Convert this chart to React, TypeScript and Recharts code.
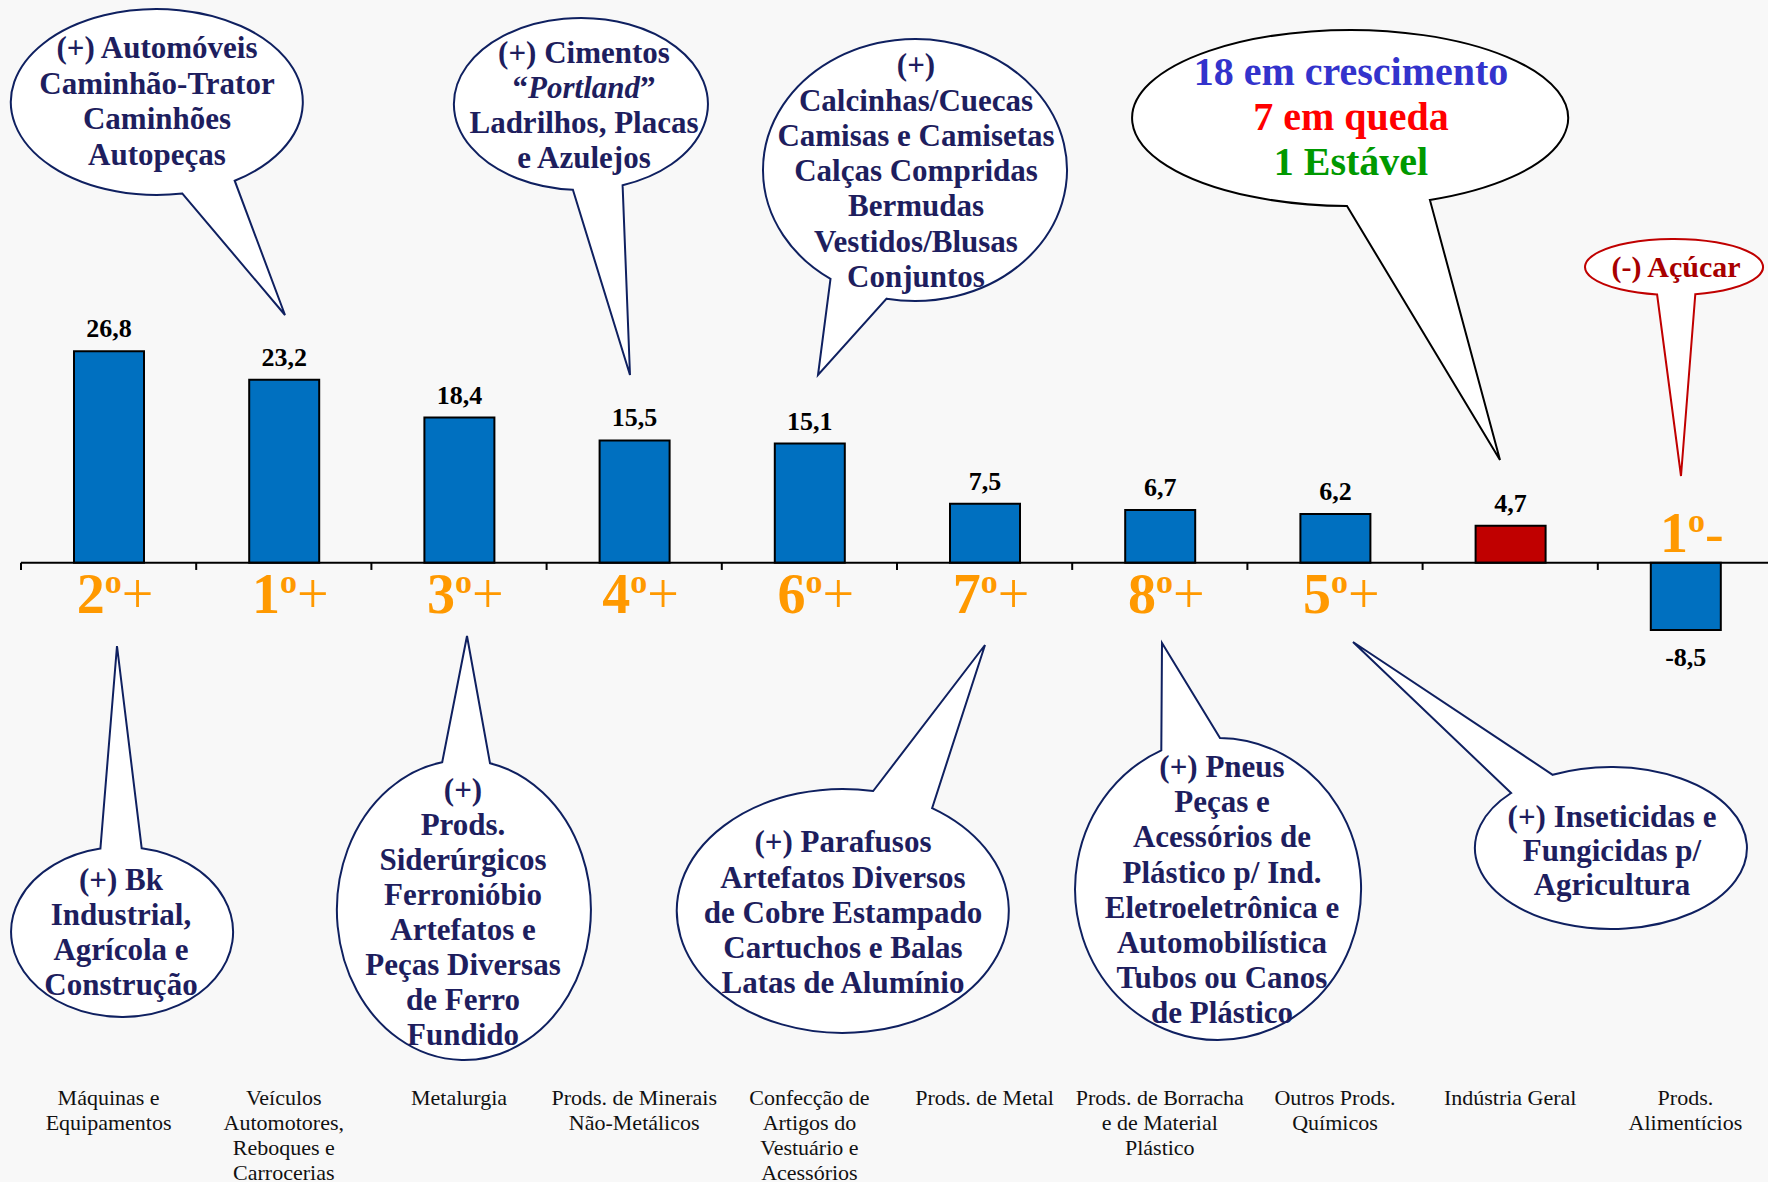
import React from 'react';
import { BarChart, Bar, XAxis, YAxis, ReferenceLine, LabelList, Cell } from 'recharts';

// categories (line breaks as in the original slide)
const categories = [
  'Máquinas e\nEquipamentos',
  'Veículos\nAutomotores,\nReboques e\nCarrocerias',
  'Metalurgia',
  'Prods. de Minerais\nNão-Metálicos',
  'Confecção de\nArtigos do\nVestuário e\nAcessórios',
  'Prods. de Metal',
  'Prods. de Borracha\ne de Material\nPlástico',
  'Outros Prods.\nQuímicos',
  'Indústria Geral',
  'Prods.\nAlimentícios',
];
const values = [26.8, 23.2, 18.4, 15.5, 15.1, 7.5, 6.7, 6.2, 4.7, -8.5];
const ranks = ['2º+', '1º+', '3º+', '4º+', '6º+', '7º+', '8º+', '5º+', '', '1º-'];
const totalCategory = 'Indústria Geral';

const data = categories.map((name, i) => ({ name, pos: i + 0.5, value: values[i], rank: ranks[i] }));
const centerTicks = data.map((d) => d.pos);
const boundaries = categories.map((_, i) => i);

const FONT = "'Liberation Serif', 'Times New Roman', serif";
const BLUE = '#0070C0';
const RED = '#C00000';
const ORANGE = '#FF9900';
const NAVY_TEXT = '#1E1E5E';
const NAVY_LINE = '#0F2060';

type Seg = { t: string; italic?: boolean };
type Line = string | Seg[];

interface Callout {
  cx: number; cy: number; rx: number; ry: number;
  base: [number, number][];
  tip: [number, number];
  lines: Line[];
  colors?: string[];
  x: number; y0: number; step: number;
  size: number;
  stroke: string;
  textColor: string;
}

// speech-bubble annotations
const callouts: Callout[] = [
  {
    cx: 157, cy: 102, rx: 146, ry: 93, base: [[182, 192], [233, 179]], tip: [285, 315],
    lines: ['(+) Automóveis', 'Caminhão-Trator', 'Caminhões', 'Autopeças'],
    x: 157, y0: 48, step: 35.5, size: 31, stroke: NAVY_LINE, textColor: NAVY_TEXT,
  },
  {
    cx: 581, cy: 104, rx: 127, ry: 86, base: [[573, 189], [622, 184]], tip: [630, 375],
    lines: ['(+) Cimentos', [{ t: '“' }, { t: 'Portland', italic: true }, { t: '”' }], 'Ladrilhos, Placas', 'e Azulejos'],
    x: 584, y0: 53, step: 35, size: 31, stroke: NAVY_LINE, textColor: NAVY_TEXT,
  },
  {
    cx: 915, cy: 170, rx: 152, ry: 131, base: [[832, 277], [887, 297]], tip: [818, 375],
    lines: ['(+)', 'Calcinhas/Cuecas', 'Camisas e Camisetas', 'Calças Compridas', 'Bermudas', 'Vestidos/Blusas', 'Conjuntos'],
    x: 916, y0: 65, step: 35.3, size: 31, stroke: NAVY_LINE, textColor: NAVY_TEXT,
  },
  {
    cx: 1350, cy: 118, rx: 218, ry: 88, base: [[1347, 207], [1430, 200]], tip: [1500, 460],
    lines: ['18 em crescimento', '7 em queda', '1 Estável'],
    colors: ['#3333CC', '#FF0000', '#009900'],
    x: 1351, y0: 72, step: 45, size: 40, stroke: '#000000', textColor: '#000000',
  },
  {
    cx: 1674, cy: 267, rx: 89, ry: 28, base: [[1658, 293], [1692, 290]], tip: [1681, 476],
    lines: ['(-) Açúcar'],
    x: 1676, y0: 267, step: 0, size: 30, stroke: RED, textColor: '#A80000',
  },
  {
    cx: 122, cy: 932, rx: 111, ry: 85, base: [[100, 847], [142, 847]], tip: [117, 646],
    lines: ['(+) Bk', 'Industrial,', 'Agrícola e', 'Construção'],
    x: 121, y0: 880, step: 35, size: 31, stroke: NAVY_LINE, textColor: NAVY_TEXT,
  },
  {
    cx: 464, cy: 910, rx: 127, ry: 150, base: [[442, 761], [490, 763]], tip: [467, 636],
    lines: ['(+)', 'Prods.', 'Siderúrgicos', 'Ferronióbio', 'Artefatos e', 'Peças Diversas', 'de Ferro', 'Fundido'],
    x: 463, y0: 790, step: 35, size: 31, stroke: NAVY_LINE, textColor: NAVY_TEXT,
  },
  {
    cx: 843, cy: 911, rx: 166, ry: 122, base: [[874, 788], [933, 807]], tip: [985, 645],
    lines: ['(+) Parafusos', 'Artefatos Diversos', 'de Cobre Estampado', 'Cartuchos e Balas', 'Latas de Alumínio'],
    x: 843, y0: 842, step: 35.3, size: 31, stroke: NAVY_LINE, textColor: NAVY_TEXT,
  },
  {
    cx: 1218, cy: 889, rx: 143, ry: 151, base: [[1162, 752], [1220, 737]], tip: [1162, 643],
    lines: ['(+) Pneus', 'Peças e', 'Acessórios de', 'Plástico p/ Ind.', 'Eletroeletrônica e', 'Automobilística', 'Tubos ou Canos', 'de Plástico'],
    x: 1222, y0: 767, step: 35.1, size: 31, stroke: NAVY_LINE, textColor: NAVY_TEXT,
  },
  {
    cx: 1611, cy: 848, rx: 136, ry: 81, base: [[1511, 793], [1552, 774]], tip: [1353, 642],
    lines: ['(+) Inseticidas e', 'Fungicidas p/', 'Agricultura'],
    x: 1612, y0: 817, step: 34, size: 31, stroke: NAVY_LINE, textColor: NAVY_TEXT,
  },
];

function bubblePath(b: Callout) {
  const ang = (p: [number, number]) => Math.atan2((p[1] - b.cy) / b.ry, (p[0] - b.cx) / b.rx);
  const pt = (t: number) => `${(b.cx + b.rx * Math.cos(t)).toFixed(1)},${(b.cy + b.ry * Math.sin(t)).toFixed(1)}`;
  const t1 = ang(b.base[0]);
  const t2 = ang(b.base[1]);
  let d = t2 - t1;
  while (d <= -Math.PI) d += 2 * Math.PI;
  while (d > Math.PI) d -= 2 * Math.PI;
  const sweep = d > 0 ? 1 : 0;
  return `M${pt(t1)} L${b.tip[0]},${b.tip[1]} L${pt(t2)} A${b.rx} ${b.ry} 0 1 ${sweep} ${pt(t1)} Z`;
}

function Bubbles() {
  return (
    <svg width={1768} height={1182} style={{ position: 'absolute', left: 0, top: 0, pointerEvents: 'none' }}>
      {callouts.map((b, i) => (
        <g key={i}>
          <path d={bubblePath(b)} fill="#FFFFFF" stroke={b.stroke} strokeWidth={2} strokeLinejoin="miter" />
          {b.lines.map((line, k) => (
            <text
              key={k}
              x={b.x}
              y={b.y0 + k * b.step + b.size * 0.33}
              textAnchor="middle"
              fontFamily={FONT}
              fontWeight="bold"
              fontSize={b.size}
              fill={b.colors ? b.colors[k] : b.textColor}
            >
              {typeof line === 'string'
                ? line
                : line.map((s, j) => (
                    <tspan key={j} fontStyle={s.italic ? 'italic' : 'normal'}>{s.t}</tspan>
                  ))}
            </text>
          ))}
        </g>
      ))}
    </svg>
  );
}

function boxOf(p: any) {
  const vb = p.viewBox && p.viewBox.width !== undefined ? p.viewBox : p;
  const x = Number(vb.x), y = Number(vb.y), w = Number(vb.width), h = Number(vb.height);
  return { x, w, top: Math.min(y, y + h), bottom: Math.max(y, y + h) };
}

const fmt = (v: number) => v.toFixed(1).replace('.', ',');

function ValueLabel(p: any) {
  const v = Number(p.value);
  const b = boxOf(p);
  const cx = b.x + b.w / 2;
  const y = v >= 0 ? b.top - 14 : b.bottom + 36;
  return (
    <text x={cx} y={y} textAnchor="middle" fontFamily={FONT} fontWeight="bold" fontSize={26} fill="#000">
      {fmt(v)}
    </text>
  );
}

function RankLabel(p: any) {
  const r = String(p.value || '');
  const m = r.match(/^(\d+)º(.)$/);
  if (!m) return null;
  const b = boxOf(p);
  const cx = b.x + b.w / 2 + 6;
  const negative = m[2] === '-';
  const y = negative ? b.top - 11 : b.bottom + 50;
  return (
    <text x={cx} y={y} textAnchor="middle" fontFamily={FONT} fontWeight="bold" fontSize={56} fill={ORANGE}>
      {m[1]}
      <tspan fontSize={34} dy={-20}>o</tspan>
      <tspan dy={20} fontWeight="normal">{m[2]}</tspan>
    </text>
  );
}

function CategoryTick(p: any) {
  const idx = Math.floor(Number(p.payload.value));
  const lines = categories[idx].split('\n');
  return (
    <text x={p.x} y={p.y} textAnchor="middle" fontFamily={FONT} fontSize={22} fill="#111">
      {lines.map((l, k) => (
        <tspan key={k} x={p.x} dy={k === 0 ? 13 : 25}>{l}</tspan>
      ))}
    </text>
  );
}

export default function App() {
  return (
    <div
      style={{
        position: 'absolute', left: 0, top: 0, width: 1768, height: 1182,
        overflow: 'hidden', background: '#F8F8F8',
      }}
    >
      <BarChart width={1773} height={1182} data={data} margin={{ top: 247, right: 0, bottom: 0, left: 21 }}>
        <XAxis
          type="number"
          dataKey="pos"
          domain={[0, categories.length]}
          ticks={centerTicks}
          interval={0}
          allowDataOverflow
          axisLine={false}
          tickLine={false}
          height={98}
          tick={<CategoryTick />}
        />
        <YAxis hide type="number" domain={[-66, 40]} allowDataOverflow />
        <Bar dataKey="value" barSize={70} stroke="#000" strokeWidth={2} isAnimationActive={false}>
          {data.map((d) => (
            <Cell key={d.name} fill={d.name === totalCategory ? RED : BLUE} />
          ))}
          <LabelList dataKey="value" content={<ValueLabel />} />
          <LabelList dataKey="rank" content={<RankLabel />} />
        </Bar>
        <ReferenceLine y={0} stroke="#000" strokeWidth={2} />
        {boundaries.map((b) => (
          <ReferenceLine
            key={b}
            segment={[{ x: b, y: 0 }, { x: b, y: -0.9 }]}
            stroke="#000"
            strokeWidth={2}
          />
        ))}
      </BarChart>
      <Bubbles />
    </div>
  );
}
